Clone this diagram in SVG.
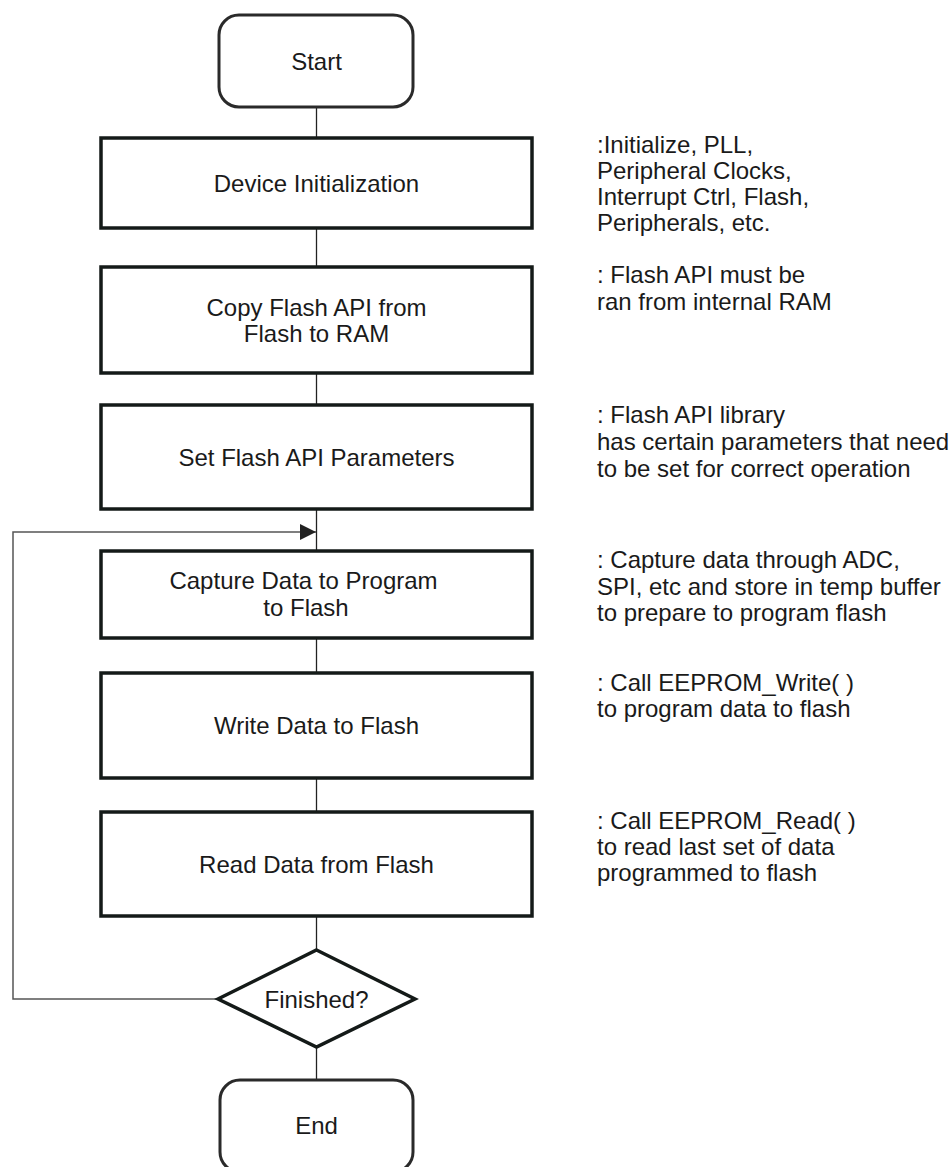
<svg xmlns="http://www.w3.org/2000/svg" width="950" height="1167" viewBox="0 0 950 1167">
<style>
  text { font-family: "Liberation Sans", Arial, sans-serif; font-size: 24px; fill: #1a1a1a; }
  .c { text-anchor: middle; }
  .box { fill: #ffffff; stroke: #141a18; stroke-width: 3.5; }
  .term { fill: #ffffff; stroke: #2a2a2a; stroke-width: 3; }
  .dec { fill: #ffffff; stroke: #141a18; stroke-width: 3.5; stroke-linejoin: miter; }
  .link { fill: none; stroke: #222; stroke-width: 1.3; }
  .loop { fill: none; stroke: #555; stroke-width: 1.5; }
</style>
<defs>
  <marker id="arrow" markerUnits="userSpaceOnUse" viewBox="0 0 16 16" refX="16" refY="8" markerWidth="16" markerHeight="16" orient="auto">
    <path d="M0 0 L16 8 L0 16 z" fill="#222"/>
  </marker>
</defs>
<rect width="950" height="1167" fill="#ffffff"/>

<g id="connectors">
  <line class="link" x1="316.5" y1="107" x2="316.5" y2="138"/>
  <line class="link" x1="316.5" y1="228" x2="316.5" y2="267"/>
  <line class="link" x1="316.5" y1="373" x2="316.5" y2="405"/>
  <line class="link" x1="316.5" y1="509" x2="316.5" y2="551"/>
  <line class="link" x1="316.5" y1="638" x2="316.5" y2="673"/>
  <line class="link" x1="316.5" y1="778" x2="316.5" y2="812"/>
  <line class="link" x1="316.5" y1="916" x2="316.5" y2="950"/>
  <line class="link" x1="316.5" y1="1047" x2="316.5" y2="1080"/>
  <path class="loop" d="M218 999 H13 V532 H316" marker-end="url(#arrow)"/>
</g>

<g id="start">
  <rect class="term" x="219" y="15" width="194" height="92" rx="20"/>
  <text class="c" x="316.5" y="69.5">Start</text>
</g>

<g id="device-init">
  <rect class="box" x="101" y="138" width="431" height="90"/>
  <text class="c" x="316.5" y="191.5">Device Initialization</text>
</g>

<g id="copy-api">
  <rect class="box" x="101" y="267" width="431" height="106"/>
  <text class="c" x="316.5" y="316">Copy Flash API from</text>
  <text class="c" x="316.5" y="342">Flash to RAM</text>
</g>

<g id="set-params">
  <rect class="box" x="101" y="405" width="431" height="104"/>
  <text class="c" x="316.5" y="465.5">Set Flash API Parameters</text>
</g>

<g id="capture">
  <rect class="box" x="101" y="551" width="431" height="87"/>
  <text class="c" x="303.5" y="588.5">Capture Data to Program</text>
  <text class="c" x="306" y="615.5">to Flash</text>
</g>

<g id="write">
  <rect class="box" x="101" y="673" width="431" height="105"/>
  <text class="c" x="316.5" y="734">Write Data to Flash</text>
</g>

<g id="read">
  <rect class="box" x="101" y="812" width="431" height="104"/>
  <text class="c" x="316.5" y="872.5">Read Data from Flash</text>
</g>

<g id="finished">
  <polygon class="dec" points="316.5,950 415,999 316.5,1047 218,999"/>
  <text class="c" x="316.5" y="1007.5">Finished?</text>
</g>

<g id="end">
  <rect class="term" x="220" y="1080" width="193" height="92" rx="20"/>
  <text class="c" x="316.5" y="1134">End</text>
</g>

<g id="notes">
  <text x="597" y="153">:Initialize, PLL,</text>
  <text x="597" y="179">Peripheral Clocks,</text>
  <text x="597" y="205">Interrupt Ctrl, Flash,</text>
  <text x="597" y="231">Peripherals, etc.</text>

  <text x="597" y="283">: Flash API must be</text>
  <text x="597" y="310">ran from internal RAM</text>

  <text x="597" y="423">: Flash API library</text>
  <text x="597" y="450">has certain parameters that need</text>
  <text x="597" y="477">to be set for correct operation</text>

  <text x="597" y="568">: Capture data through ADC,</text>
  <text x="597" y="595">SPI, etc and store in temp buffer</text>
  <text x="597" y="621">to prepare to program flash</text>

  <text x="597" y="691">: Call EEPROM_Write( )</text>
  <text x="597" y="717">to program data to flash</text>

  <text x="597" y="829">: Call EEPROM_Read( )</text>
  <text x="597" y="855">to read last set of data</text>
  <text x="597" y="881">programmed to flash</text>
</g>
</svg>
